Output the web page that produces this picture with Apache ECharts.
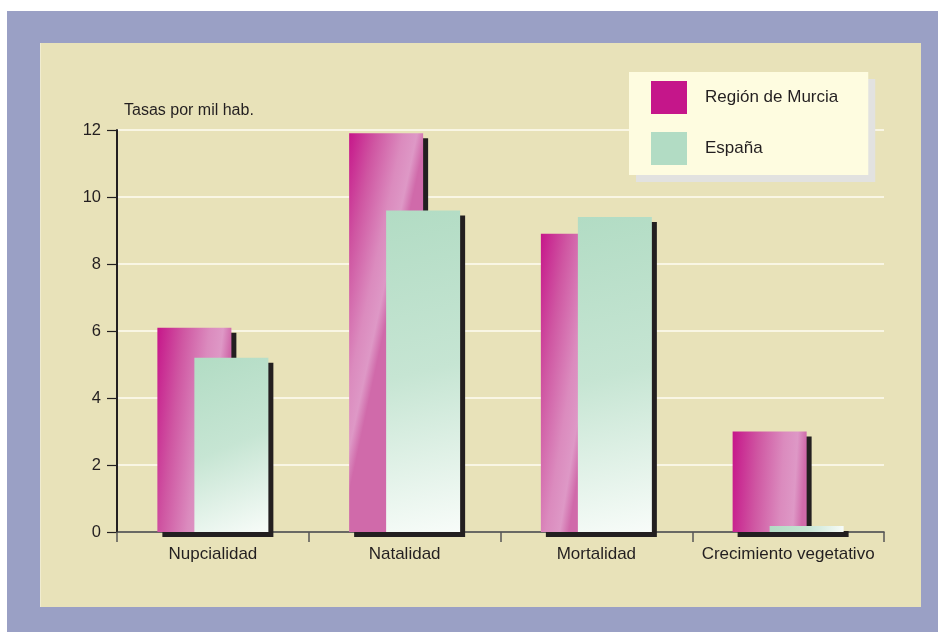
<!DOCTYPE html>
<html>
<head>
<meta charset="utf-8">
<script src="https://cdn.jsdelivr.net/npm/echarts@6/dist/echarts.min.js"></script>
<style>
html,body{margin:0;padding:0;background:#ffffff;}
#outer{position:absolute;left:7px;top:11px;width:931px;height:621px;background:#9AA0C5;}
#inner{position:absolute;left:40px;top:43px;width:881px;height:564px;background:#E8E2B9;border-left:1px solid #F0ECD0;box-sizing:border-box;}
#chart{position:absolute;left:0;top:0;width:938px;height:632px;}
</style>
</head>
<body>
<div id="outer"></div>
<div id="inner"></div>
<div id="chart"></div>
<script>
const categories = ['Nupcialidad', 'Natalidad', 'Mortalidad', 'Crecimiento vegetativo'];
const murcia = [6.1, 11.9, 8.9, 3.0];
const espana = [5.2, 9.6, 9.4, 0.18];
const seriesNames = ['Región de Murcia', 'España'];
const yTitle = 'Tasas por mil hab.';

const chart = echarts.init(document.getElementById('chart'), null, {renderer: 'canvas'});
const textColor = '#231F20';
const font = 'Liberation Sans, Arial, Helvetica, sans-serif';

const murciaGrad = new echarts.graphic.LinearGradient(0, 0, 1, 0.04, [
  {offset: 0, color: '#C6168A'},
  {offset: 0.35, color: '#CF56A2'},
  {offset: 0.7, color: '#DB8BBE'},
  {offset: 0.88, color: '#DE98C6'},
  {offset: 1, color: '#D06AAA'}
]);
const espanaGrad = new echarts.graphic.LinearGradient(0, 0, 1, 1, [
  {offset: 0, color: '#B2DCC4'},
  {offset: 0.5, color: '#C6E5D3'},
  {offset: 1, color: '#F8FCF9'}
]);

const shadow = {shadowColor: '#231F20', shadowBlur: 0, shadowOffsetX: 5, shadowOffsetY: 5};

chart.setOption({
  animation: false,
  backgroundColor: 'transparent',
  textStyle: {fontFamily: font, color: textColor},
  title: {
    text: yTitle, left: 124, top: 103, padding: 0,
    textStyle: {fontSize: 16, fontWeight: 'normal', color: textColor, fontFamily: font}
  },
  legend: {
    left: 629, top: 72, orient: 'vertical',
    padding: [9, 30, 10, 22],
    itemWidth: 36, itemHeight: 33, itemGap: 18,
    backgroundColor: '#FEFCE0',
    shadowColor: '#E2E2E0', shadowBlur: 0, shadowOffsetX: 7, shadowOffsetY: 7,
    icon: 'rect',
    selectedMode: false,
    textStyle: {fontSize: 17, color: textColor, fontFamily: font, padding: [6, 0, 0, 13]},
    data: [
      {name: seriesNames[0], itemStyle: {color: '#C5168A'}},
      {name: seriesNames[1], itemStyle: {color: '#B2DCC4'}}
    ],
    z: 10
  },
  grid: {left: 117, right: 54, top: 130, bottom: 100, containLabel: false},
  xAxis: {
    type: 'category',
    data: categories,
    axisLine: {lineStyle: {color: '#3A3A3A', width: 1.5}},
    axisTick: {show: true, interval: 0, length: 10, lineStyle: {color: '#555555', width: 1.5}},
    axisLabel: {interval: 0, fontSize: 17, color: textColor, margin: 14, fontFamily: font},
    z: 1
  },
  yAxis: {
    type: 'value', min: 0, max: 12, interval: 2,
    axisLine: {show: true, lineStyle: {color: '#231F20', width: 2}},
    axisTick: {show: true, length: 10, lineStyle: {color: '#231F20', width: 1.2}},
    axisLabel: {fontSize: 16.5, color: textColor, margin: 16, fontFamily: font},
    splitLine: {show: true, lineStyle: {color: '#FFFDF3', width: 1.5}}
  },
  series: [
    {
      name: seriesNames[0], type: 'bar', data: murcia,
      barWidth: 74, barGap: '-50%',
      itemStyle: Object.assign({color: murciaGrad}, shadow),
      z: 2
    },
    {
      name: seriesNames[1], type: 'bar', data: espana,
      barWidth: 74, barGap: '-50%',
      itemStyle: Object.assign({color: espanaGrad}, shadow),
      z: 3
    }
  ]
});
</script>
</body>
</html>
